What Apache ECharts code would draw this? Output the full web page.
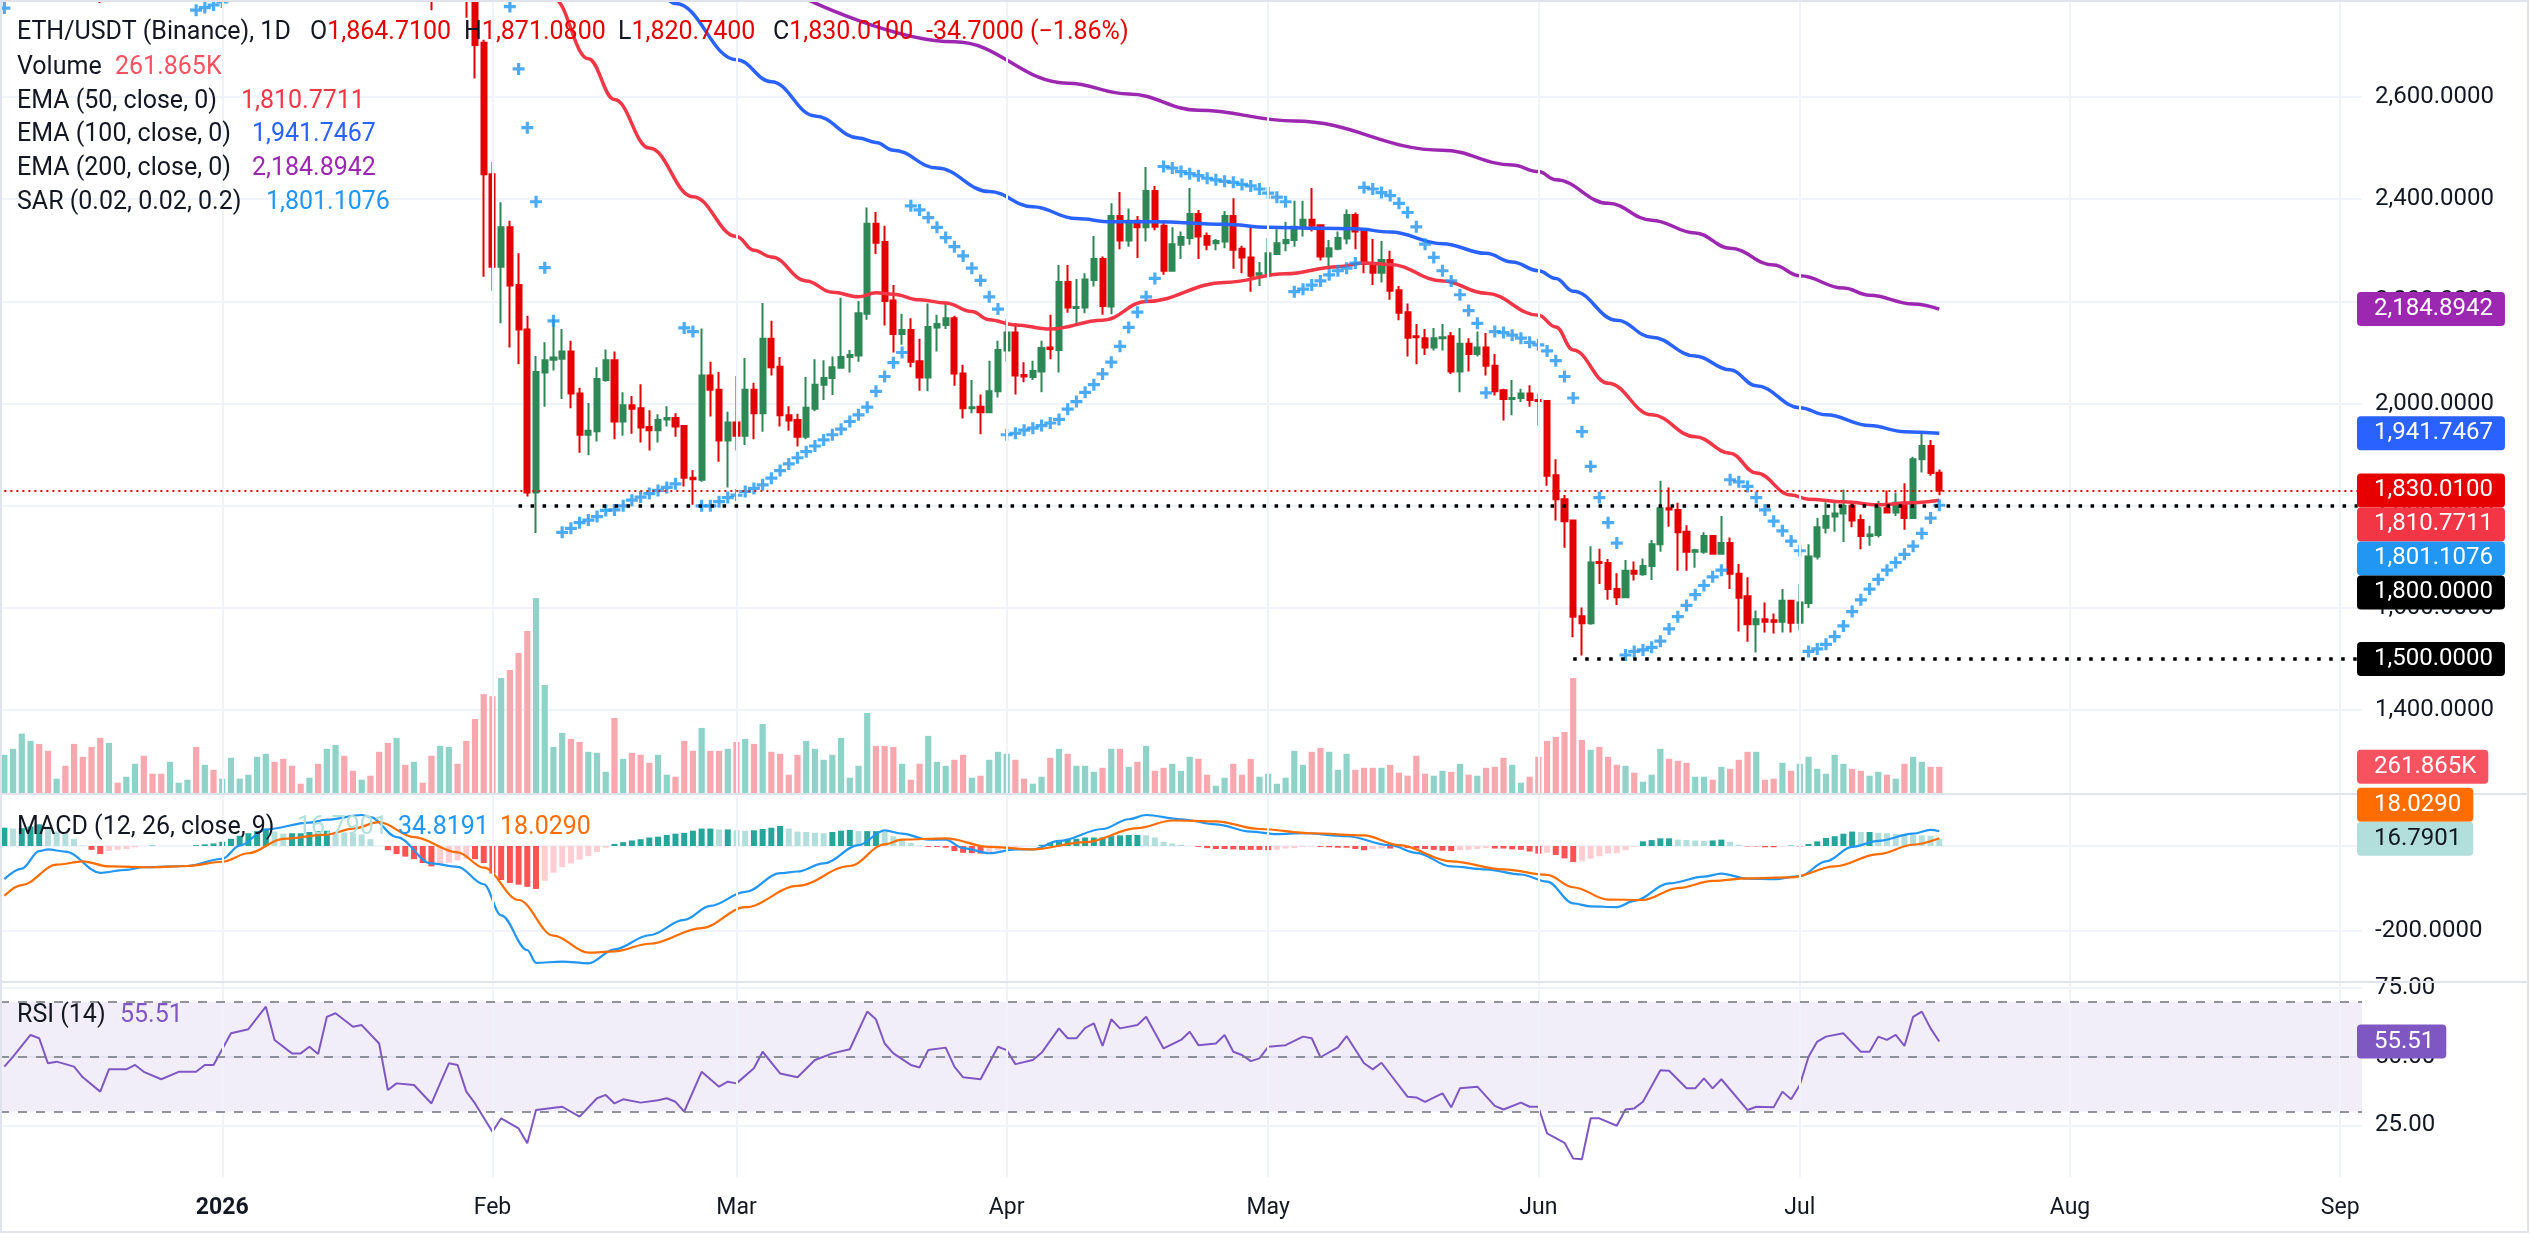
<!DOCTYPE html>
<html>
<head>
<meta charset="utf-8">
<title>ETH/USDT (Binance) 1D</title>
<script src="https://cdn.jsdelivr.net/npm/echarts@6/dist/echarts.min.js"></script>
<style>
  html, body { margin: 0; padding: 0; background: #fff; }
  #main { width: 2530px; height: 1253px; }
</style>
</head>
<body>
<div id="main"></div>
<script>
// day numbers below are days from 2026-01-01 (negative = Dec 2025)
const firstDay = -25 // 2025-12-07, first category on the axis
const dayCount = 271
const monthStarts = [0, 31, 59, 90, 120, 151, 181, 212, 243]
const monthNames = ['2026', 'Feb', 'Mar', 'Apr', 'May', 'Jun', 'Jul', 'Aug', 'Sep']

// candles [open, close, low, high], one per day from day 28 (2026-01-29)
const candleStart = 28
const candles = [
  [2880, 2800, 2755, 2900], [2840, 2702, 2636, 2870], [2706, 2449, 2248, 2712], [2449, 2268, 2221, 2473],
  [2268, 2345, 2157, 2394], [2345, 2231, 2110, 2358], [2232, 2145, 2077, 2294], [2145, 1826, 1818, 2172],
  [1826, 2062, 1747, 2093], [2061, 2085, 1994, 2120], [2086, 2090, 2065, 2165], [2088, 2102, 2009, 2146],
  [2102, 2020, 1991, 2123], [2020, 1939, 1904, 2031], [1939, 1947, 1899, 2001], [1946, 2048, 1926, 2071],
  [2046, 2085, 2043, 2106], [2085, 1965, 1930, 2102], [1965, 1997, 1937, 2022], [1997, 1990, 1941, 2015],
  [1991, 1953, 1924, 2038], [1954, 1948, 1908, 1987], [1948, 1968, 1924, 1979], [1969, 1972, 1955, 1995],
  [1972, 1955, 1935, 1981], [1956, 1855, 1838, 1958], [1855, 1852, 1802, 1870], [1851, 2055, 1847, 2147],
  [2055, 2027, 1975, 2082], [2027, 1928, 1886, 2062], [1928, 1963, 1836, 1984], [1963, 1937, 1908, 2054],
  [1937, 2027, 1919, 2089], [2027, 1981, 1930, 2041], [1981, 2127, 1945, 2197], [2127, 2071, 2055, 2162],
  [2072, 1977, 1955, 2091], [1977, 1967, 1947, 1995], [1968, 1935, 1916, 1980], [1935, 1992, 1930, 2052],
  [1990, 2037, 1985, 2087], [2037, 2050, 2007, 2085], [2050, 2071, 2017, 2092], [2070, 2091, 2068, 2207],
  [2091, 2095, 2061, 2105], [2094, 2177, 2082, 2201], [2176, 2352, 2164, 2384], [2352, 2315, 2293, 2375],
  [2316, 2201, 2153, 2348], [2202, 2136, 2100, 2232], [2136, 2144, 2115, 2176], [2144, 2082, 2071, 2167],
  [2083, 2051, 2025, 2127], [2051, 2150, 2024, 2196], [2149, 2156, 2102, 2174], [2154, 2167, 2146, 2196],
  [2167, 2059, 2035, 2172], [2059, 1991, 1971, 2076], [1991, 1993, 1981, 2046], [1994, 1983, 1940, 2018],
  [1983, 2024, 1981, 2084], [2024, 2105, 2012, 2123], [2104, 2139, 2082, 2165], [2139, 2055, 2018, 2157],
  [2056, 2053, 2042, 2081], [2052, 2064, 2046, 2084], [2063, 2109, 2022, 2123], [2110, 2107, 2087, 2174],
  [2105, 2238, 2061, 2271], [2238, 2188, 2178, 2271], [2187, 2189, 2156, 2244], [2188, 2243, 2177, 2255],
  [2242, 2283, 2229, 2328], [2283, 2191, 2174, 2288], [2190, 2367, 2175, 2392], [2367, 2319, 2302, 2414],
  [2319, 2358, 2307, 2382], [2358, 2345, 2285, 2367], [2345, 2416, 2317, 2463], [2416, 2346, 2339, 2426],
  [2348, 2260, 2252, 2354], [2260, 2312, 2258, 2345], [2311, 2326, 2283, 2337], [2324, 2371, 2311, 2422],
  [2371, 2327, 2283, 2379], [2328, 2311, 2300, 2335], [2314, 2318, 2300, 2322], [2317, 2367, 2304, 2377],
  [2367, 2301, 2264, 2402], [2303, 2286, 2255, 2309], [2286, 2250, 2219, 2345], [2252, 2255, 2230, 2277],
  [2255, 2294, 2254, 2324], [2293, 2314, 2291, 2341], [2314, 2320, 2298, 2356], [2320, 2346, 2307, 2397],
  [2345, 2360, 2327, 2397], [2360, 2348, 2337, 2422], [2349, 2288, 2280, 2350], [2288, 2304, 2265, 2320],
  [2303, 2324, 2300, 2337], [2323, 2369, 2312, 2380], [2369, 2337, 2302, 2374], [2338, 2273, 2255, 2341],
  [2275, 2256, 2232, 2322], [2256, 2281, 2237, 2318], [2281, 2221, 2203, 2299], [2222, 2178, 2163, 2230],
  [2179, 2129, 2092, 2196], [2132, 2130, 2077, 2156], [2128, 2110, 2095, 2146], [2110, 2128, 2104, 2148],
  [2128, 2130, 2104, 2156], [2132, 2063, 2058, 2140], [2063, 2117, 2022, 2148], [2117, 2097, 2063, 2128],
  [2097, 2110, 2092, 2141], [2110, 2074, 2055, 2138], [2074, 2024, 2016, 2097], [2026, 2009, 1967, 2029],
  [2009, 2011, 1977, 2046], [2011, 2020, 2003, 2029], [2020, 2007, 1994, 2036], [2007, 2005, 1957, 2020],
  [2005, 1859, 1839, 2007], [1860, 1813, 1771, 1891], [1813, 1770, 1718, 1821], [1771, 1583, 1543, 1773],
  [1584, 1570, 1507, 1601], [1570, 1689, 1567, 1721], [1690, 1688, 1647, 1716], [1688, 1637, 1616, 1696],
  [1637, 1621, 1606, 1668], [1621, 1673, 1619, 1694], [1673, 1667, 1654, 1691], [1666, 1682, 1663, 1697],
  [1682, 1725, 1655, 1733], [1725, 1795, 1710, 1849], [1795, 1793, 1759, 1836], [1792, 1748, 1673, 1806],
  [1749, 1710, 1673, 1762], [1710, 1713, 1679, 1716], [1710, 1741, 1706, 1748], [1741, 1706, 1704, 1742],
  [1706, 1727, 1704, 1780], [1727, 1667, 1637, 1738], [1667, 1620, 1554, 1686], [1623, 1568, 1534, 1660],
  [1568, 1578, 1513, 1595], [1578, 1573, 1552, 1611], [1576, 1573, 1550, 1589], [1573, 1614, 1552, 1637],
  [1614, 1571, 1552, 1616], [1571, 1611, 1556, 1647], [1610, 1701, 1600, 1725], [1701, 1758, 1695, 1776],
  [1757, 1780, 1746, 1807], [1779, 1785, 1749, 1807], [1785, 1800, 1729, 1832], [1800, 1771, 1758, 1810],
  [1772, 1741, 1715, 1783], [1741, 1744, 1722, 1761], [1743, 1795, 1738, 1810], [1795, 1787, 1786, 1830],
  [1787, 1806, 1780, 1826], [1806, 1776, 1753, 1844], [1776, 1891, 1775, 1896], [1891, 1917, 1865, 1945],
  [1917, 1864, 1859, 1929], [1864.71, 1830.01, 1820.74, 1871.08]
]
// only the wick tips of these two show at the top edge: [day, open, close, low, high]
const earlyCandles = [[-14, 2850, 2830, 2784, 2870], [24, 2860, 2830, 2770, 2880]]

// volume in K, one per day from day -25; volUp: 1 = up bar, 0 = down bar
const volStart = -25
const volumes = [
  382, 442, 594, 521, 491, 422, 143, 272, 491, 362,
  461, 551, 501, 103, 163, 292, 372, 193, 193, 312,
  103, 133, 461, 282, 232, 143, 352, 143, 183, 362,
  392, 312, 342, 272, 93, 153, 292, 442, 481, 372,
  222, 133, 173, 412, 501, 551, 282, 312, 103, 372,
  471, 461, 292, 521, 740, 989, 969, 1150, 1230, 1400,
  1620, 1950, 1080, 461, 601, 541, 511, 412, 402, 212,
  750, 342, 402, 382, 302, 382, 183, 163, 521, 422,
  651, 422, 422, 442, 511, 541, 491, 690, 412, 392,
  183, 382, 521, 442, 332, 382, 551, 153, 272, 800,
  471, 471, 461, 292, 133, 292, 571, 312, 272, 332,
  382, 153, 173, 332,
  412, 392, 332, 143, 93, 163, 352, 442, 392, 272,
  272, 212, 252, 442, 442, 262, 312, 471, 222, 252,
  292, 222, 362, 342, 183, 73, 153, 292, 183, 342,
  163, 193, 93, 153, 422, 282, 412, 451, 412, 232,
  392, 232, 252, 252, 252, 282, 203, 173, 372, 193,
  173, 222, 212, 292, 183, 173, 252, 262, 352, 282,
  103, 163, 362, 521, 561, 611, 1150, 531, 432, 461,
  362, 282, 272, 203, 113, 183, 442, 342, 322, 302,
  163, 163, 133, 262, 242, 332, 412, 412, 133, 143,
  302, 222, 292, 362, 242, 193, 382, 292, 242, 222,
  173, 212, 183, 143, 292, 362, 312, 262, 261.865
]
const volUp = '1111001000' + '0010110001' + '1101011111' + '1000010110' + '0100010100' +
  '1100000100' + '0111100111' + '0100011000' + '1001010100' + '0011111111' + '0001001110' + '0101' +
  '1100110101' + '1101010100' + '1110011000' + '1111110011' + '1000100000' + '1101010001' +
  '1000000010' + '0010111000' + '1101000100' + '1011111100' + '110101100'

// EMA lines, read as [day, value]
const ema50 = [[37, 2820], [38, 2793], [42, 2675], [45, 2595], [49, 2500], [54, 2405], [59, 2327], [61, 2300],
  [63, 2287], [67, 2240], [70, 2218], [73, 2209], [75, 2217], [77, 2214], [80, 2203], [83, 2197], [86, 2180],
  [88, 2164], [91, 2154], [95, 2146], [101, 2163], [106, 2200], [115, 2237], [122, 2254], [128, 2268],
  [131, 2275], [134, 2272], [140, 2240], [145, 2216], [151, 2173], [153, 2150], [155, 2105], [159, 2040],
  [164, 1978], [169, 1935], [173, 1903], [176, 1864], [180, 1821], [182, 1813], [186, 1808], [190, 1802],
  [194, 1806], [197, 1810.77]]
const ema100 = [[50, 2815], [52, 2783], [59, 2673], [63, 2630], [68, 2563], [73, 2520], [75, 2511], [77, 2496],
  [82, 2461], [88, 2415], [93, 2385], [98, 2362], [102, 2356], [107, 2356], [115, 2351], [120, 2345],
  [126, 2343], [130, 2342], [134, 2336], [140, 2313], [145, 2294], [148, 2277], [151, 2260], [153, 2245],
  [155, 2220], [160, 2163], [164, 2130], [169, 2093], [173, 2066], [176, 2035], [181, 1992], [184, 1978],
  [189, 1957], [193, 1945], [197, 1941.75]]
const ema200 = [[67, 2792], [84, 2708], [97, 2627], [104, 2606], [112, 2574], [123, 2553], [140, 2496],
  [148, 2467], [151, 2454], [153, 2438], [159, 2392], [164, 2359], [169, 2334], [173, 2304], [178, 2271],
  [181, 2250], [186, 2226], [189, 2212], [194, 2195], [197, 2184.89]]

// parabolic SAR, one per day from day 33, plus a few dots at the top-left
const sarStart = 33
const sar = [
  2777, 2655, 2540, 2395, 2266, 2162, 1748, 1756, 1767, 1772,
  1779, 1791, 1792, 1800, 1811, 1817, 1824, 1830, 1836, 1843,
  2148, 2141, 1800, 1800, 1808, 1816, 1821, 1828, 1834, 1841,
  1854, 1869, 1882, 1894, 1906, 1917, 1929, 1939, 1950, 1965,
  1978, 1993, 2024, 2053, 2080, 2100, 2387, 2379, 2364, 2345,
  2325, 2307, 2289, 2265, 2241, 2209, 2185, 1939, 1942, 1948,
  1952, 1957, 1962, 1969, 1989, 2004, 2022, 2037, 2058, 2081,
  2112, 2149, 2179, 2209, 2245, 2464, 2461, 2454, 2450, 2446,
  2441, 2438, 2435, 2433, 2429, 2426, 2420, 2412, 2404, 2395,
  2219, 2224, 2232, 2240, 2252, 2260, 2265, 2275, 2423, 2420,
  2413, 2407, 2392, 2374, 2346, 2312, 2286, 2260, 2240, 2213,
  2182, 2157, 2021, 2141, 2139, 2134, 2128, 2120, 2115, 2103,
  2084, 2053, 2011, 1945, 1877, 1816, 1767, 1727, 1508, 1515,
  1518, 1523, 1535, 1559, 1583, 1605, 1626, 1644, 1661, 1674,
  1851, 1847, 1838, 1816, 1792, 1770, 1751, 1731, 1712, 1515,
  1520, 1529, 1544, 1565, 1593, 1616, 1637, 1656, 1674, 1689,
  1705, 1721, 1746, 1776, 1801.1076
]
const sarEarly = [[-25, 2774], [-3, 2770], [-2, 2775], [-1, 2780], [0, 2786]]

// MACD (12, 26, 9): lines read as [day, value], histogram one per day from day -25
const macdLine = [[-25, -78], [-23, -53], [-21, -12], [-20, -8], [-18, -13], [-14, -63], [-11, -56], [-9, -50],
  [-4, -47], [0, -30], [2, 1], [5, 39], [10, 55], [12, 62], [16, 73], [17, 68], [20, 21], [24, -41], [27, -49],
  [30, -90], [32, -163], [35, -245], [36, -275], [39, -272], [42, -276], [45, -243], [49, -210], [53, -174],
  [56, -141], [60, -108], [64, -64], [66, -60], [69, -41], [73, 2], [76, 37], [78, 29], [81, 15], [83, 15],
  [85, -5], [88, -17], [91, -8], [93, -8], [96, 12], [101, 40], [104, 63], [106, 73], [110, 63], [114, 51],
  [118, 34], [121, 28], [124, 30], [129, 23], [134, 2], [137, -16], [141, -48], [145, -55], [149, -67],
  [152, -84], [155, -135], [157, -142], [160, -144], [162, -129], [166, -88], [170, -72], [172, -65],
  [175, -77], [178, -78], [181, -71], [184, -36], [187, -2], [190, 12], [194, 29], [196, 38], [197, 34.82]]
const signalLine = [[-25, -117], [-23, -92], [-19, -44], [-16, -36], [-13, -48], [-8, -50], [-4, -47], [0, -37],
  [3, -17], [7, 17], [12, 27], [15, 41], [18, 56], [22, 21], [27, -15], [30, -51], [34, -127], [38, -211],
  [42, -251], [45, -248], [49, -230], [55, -193], [60, -144], [66, -94], [72, -47], [76, 4], [78, 15], [83, 18],
  [88, -2], [93, -8], [99, 9], [105, 42], [109, 60], [114, 58], [119, 40], [125, 30], [131, 25], [135, 2],
  [141, -36], [147, -55], [152, -68], [155, -97], [159, -126], [163, -127], [167, -99], [171, -82], [175, -76],
  [180, -74], [185, -48], [190, -19], [194, 3], [197, 18.03]]
const histStart = -25
const hist = [
  43, 41, 42, 46, 51, 46, 34, 29, 17, 1,
  -9, -19, -12, -9, -7, -3, 0, 1, 0, 0,
  0, 0, 2, 4, 6, 10, 17, 24, 30, 35,
  38, 34, 29, 30, 30, 33, 35, 36, 34, 32,
  30, 27, 16, 0, -10, -19, -25, -31, -40, -48,
  -44, -39, -34, -30, -31, -40, -65, -80, -87, -91,
  -96, -101, -82, -63, -50, -41, -32, -24, -14, -4,
  5, 9, 13, 16, 20, 22, 26, 29, 31, 36,
  41, 41, 39, 39, 37, 36, 37, 40, 43, 47,
  41, 34, 33, 31, 30, 33, 36, 38, 35, 35,
  35, 33, 23, 14, 7, 1, -2, -2, -4, -12,
  -16, -17, -18, -15, -10, -5, -2, -1, 0, 3,
  8, 13, 17, 17, 20, 20, 20, 23, 25, 26,
  26, 25, 20, 10, 6, 3, 0, -2, -5, -7,
  -7, -8, -9, -9, -9, -10, -9, -6, -5, -2,
  -1, -2, -3, -4, -4, -7, -10, -7, -6, -6,
  -5, -5, -6, -7, -9, -11, -12, -10, -9, -7,
  -5, -6, -6, -8, -9, -13, -18, -16, -21, -29,
  -38, -35, -30, -24, -18, -17, -10, -2, 11, 14,
  18, 18, 15, 14, 13, 12, 13, 15, 10, 3,
  -1, -1, -3, -3, -1, 1, -1, 5, 11, 19,
  23, 29, 34, 33, 33, 31, 30, 28, 27, 26,
  25, 24, 16.79
]

// RSI (14), read as [day, value]
const rsi = [[-25, 46.4], [-24, 50], [-22, 57.9], [-21, 56.7], [-20, 47.6], [-19, 48.2], [-17, 46.4], [-16, 42.5],
  [-14, 37.3], [-13, 45.4], [-11, 45.4], [-10, 47], [-9, 44.5], [-7, 41.8], [-5, 44.5], [-3, 44.5], [-2, 47],
  [-1, 47], [1, 58.5], [3, 60], [5, 68.2], [6, 56.1], [8, 51.2], [9, 51.2], [10, 53.6], [11, 51], [12, 64.5],
  [13, 65.8], [15, 60.9], [16, 61.5], [18, 54.8], [19, 37.9], [20, 40.3], [22, 39.7], [24, 33], [26, 47.6],
  [27, 47], [28, 37.3], [29, 33], [31, 22.7], [32, 27.6], [34, 23.9], [35, 18.5], [36, 30.6], [39, 31.8],
  [41, 28.2], [43, 34.9], [44, 36.1], [45, 33], [46, 34.5], [48, 33.3], [50, 34.2], [51, 34.9], [52, 33.6],
  [53, 30], [55, 44.5], [57, 39.1], [58, 40.9], [59, 40.3], [61, 45.8], [62, 51.8], [64, 43.9], [66, 42.5],
  [68, 48.8], [70, 51.2], [72, 52.7], [74, 66.4], [75, 63.6], [76, 54.8], [77, 51.2], [79, 47], [80, 46.1],
  [81, 52.4], [83, 53.3], [84, 46.4], [85, 42.5], [87, 41.8], [89, 53.6], [90, 52.4], [91, 47.3], [93, 48.8],
  [94, 51.4], [96, 60.3], [97, 56.7], [98, 56.7], [99, 60.5], [100, 62.1], [101, 53.9], [102, 63.6], [103, 60.3],
  [105, 61.5], [106, 64.5], [108, 53], [110, 56.1], [111, 59.1], [112, 54.2], [114, 54.8], [115, 57.9],
  [116, 51.8], [117, 50.6], [118, 48.4], [119, 49.4], [120, 53.6], [122, 54.2], [124, 57.3], [125, 56.7],
  [126, 49.8], [128, 53.4], [129, 57.5], [131, 47.6], [132, 45.4], [133, 47.8], [136, 35.4], [137, 35.2],
  [138, 33.6], [140, 36.7], [141, 31.6], [142, 38.5], [144, 39.1], [146, 32.1], [147, 30.8], [149, 33.3],
  [150, 31.8], [151, 31.8], [152, 22.1], [154, 18.7], [155, 13], [156, 12.7], [157, 27.6], [158, 27.6],
  [160, 24.9], [161, 30.8], [162, 31.2], [163, 33.6], [165, 45.1], [166, 44.9], [168, 38.5], [169, 38.5],
  [170, 42.1], [171, 38.5], [172, 41.8], [175, 30.6], [176, 31.8], [178, 31.6], [179, 37.3], [180, 34.5],
  [181, 39.7], [182, 50], [183, 55.5], [184, 57.3], [186, 58.5], [188, 51.8], [189, 51.8], [190, 57.3],
  [191, 56.1], [192, 57.9], [193, 53.9], [194, 64.5], [195, 66.4], [196, 60.3], [197, 55.51]]

// horizontal levels: last close, drawn rays [startDay, price]
const lastClose = 1830.01
const rays = [[34, 1800], [155, 1500]]

// ---------------------------------------------------------------
const FONT = 'Roboto, "Noto Sans", sans-serif'
const TXT = '#131722'
const GRID_C = '#F0F3FA'
const UP = '#2D8856'
const DOWN = '#E50000'

const cats = []
for (let i = 0; i < dayCount; i++) {
  cats.push(new Date(Date.UTC(2025, 11, 7) + i * 86400000).toISOString().slice(0, 10))
}
const cat = d => cats[d - firstDay]
const pts = list => list.map(p => [cat(p[0]), p[1]])

const candleData = cats.map(() => '-')
candles.forEach((c, i) => { candleData[candleStart + i - firstDay] = c })
earlyCandles.forEach(c => { candleData[c[0] - firstDay] = c.slice(1) })

const volData = cats.map(() => '-')
volumes.forEach((v, i) => {
  volData[volStart + i - firstDay] = {
    value: v,
    itemStyle: { color: volUp[i] === '1' ? '#8FD3C8' : '#F7A8AE' }
  }
})

const sarData = pts(sarEarly).concat(sar.map((v, i) => [cat(sarStart + i), v]))

const histData = cats.map(() => '-')
hist.forEach((v, i) => {
  const prev = i > 0 ? hist[i - 1] : v
  let color
  if (v >= 0) color = v >= prev ? '#26A69A' : '#B2DFDB'
  else color = v <= prev ? '#FF5252' : '#FFCDD2'
  histData[histStart + i - firstDay] = { value: v, itemStyle: { color: color } }
})

const money = v => v.toLocaleString('en-US', { minimumFractionDigits: 4, maximumFractionDigits: 4 })

const GRID_W = 2362
const grids = [
  { top: -5.2, height: 817.6 }, // price 1200..2800
  { top: 593, height: 200 }, // volume 0..2000K
  { top: 761, height: 255 }, // macd -400..200
  { top: 919.2, height: 275 }, // rsi 0..100
  { top: 0, height: 1177 } // month lines
].map(g => Object.assign({ left: 0, width: GRID_W, outerBoundsMode: 'none' }, g))

const xAxes = grids.map((g, i) => ({
  type: 'category',
  gridIndex: i,
  data: cats,
  boundaryGap: true,
  axisLine: { show: false },
  axisTick: { show: false },
  splitLine: { show: false },
  axisLabel: {
    show: i === 3,
    interval: (idx, val) => val.slice(8) === '01',
    margin: 3,
    fontFamily: FONT,
    fontSize: 23,
    color: TXT,
    formatter: val => {
      const m = monthStarts.indexOf(Math.round((Date.parse(val) - Date.UTC(2026, 0, 1)) / 86400000))
      if (m < 0) return ''
      return m === 0 ? '{b|' + monthNames[m] + '}' : monthNames[m]
    },
    rich: { b: { fontWeight: 'bold', fontSize: 23, fontFamily: FONT, color: TXT } }
  }
}))

const valueAxis = (grid, min, max, interval, fmt) => ({
  type: 'value',
  gridIndex: grid,
  position: 'right',
  min: min,
  max: max,
  interval: interval,
  axisLine: { show: false },
  axisTick: { show: false },
  splitLine: { show: true, showMinLine: false, showMaxLine: false, lineStyle: { color: GRID_C, width: 2 } },
  axisLabel: {
    showMinLabel: false,
    showMaxLabel: false,
    margin: 13,
    fontFamily: FONT,
    fontSize: 24,
    color: TXT,
    formatter: fmt
  }
})

const option = {
  animation: false,
  backgroundColor: '#ffffff',
  textStyle: { fontFamily: FONT },
  grid: grids,
  xAxis: xAxes,
  yAxis: [
    valueAxis(0, 1200, 2800, 200, money),
    { type: 'value', gridIndex: 1, min: 0, max: 2000, show: false },
    valueAxis(2, -400, 200, 200, money),
    valueAxis(3, 0, 100, 25, v => v.toFixed(2)),
    { type: 'value', gridIndex: 4, min: 0, max: 1, show: false }
  ],
  series: [
    {
      // vertical month grid lines across all panes
      type: 'line',
      xAxisIndex: 4,
      yAxisIndex: 4,
      data: [[cats[0], -1]],
      showSymbol: false,
      lineStyle: { opacity: 0 },
      z: 0,
      markLine: {
        silent: true,
        symbol: 'none',
        label: { show: false },
        lineStyle: { color: GRID_C, width: 2, type: 'solid' },
        data: monthStarts.map(d => ({ xAxis: cat(d) }))
      }
    },
    {
      name: 'Volume',
      type: 'bar',
      xAxisIndex: 1,
      yAxisIndex: 1,
      barWidth: 6.2,
      data: volData,
      z: 1
    },
    {
      name: 'ETH/USDT',
      type: 'candlestick',
      xAxisIndex: 0,
      yAxisIndex: 0,
      barWidth: 5.6,
      data: candleData,
      itemStyle: { color: UP, color0: DOWN, borderColor: UP, borderColor0: DOWN, borderWidth: 2 },
      z: 2,
      markLine: {
        silent: true,
        symbol: 'none',
        label: { show: false },
        data: [
          [
            { coord: [cats[0], lastClose], lineStyle: { color: DOWN, width: 2, type: [2, 4] } },
            { coord: [cats[dayCount - 1], lastClose] }
          ]
        ].concat(rays.map(r => [
          { coord: [cat(r[0]), r[1]], lineStyle: { color: '#000000', width: 3.5, type: [3.5, 8.5] } },
          { coord: [cats[dayCount - 1], r[1]] }
        ]))
      }
    },
    {
      name: 'EMA 50',
      type: 'line',
      data: pts(ema50),
      smooth: 0.4,
      smoothMonotone: 'x',
      showSymbol: false,
      lineStyle: { color: '#F23645', width: 3.5 },
      z: 3
    },
    {
      name: 'EMA 100',
      type: 'line',
      data: pts(ema100),
      smooth: 0.4,
      smoothMonotone: 'x',
      showSymbol: false,
      lineStyle: { color: '#2962FF', width: 3.5 },
      z: 3
    },
    {
      name: 'EMA 200',
      type: 'line',
      data: pts(ema200),
      smooth: 0.4,
      smoothMonotone: 'x',
      showSymbol: false,
      lineStyle: { color: '#9C27B0', width: 3.5 },
      z: 3
    },
    {
      name: 'SAR',
      type: 'scatter',
      data: sarData,
      symbol: 'path://M4.4,0H7.6V4.4H12V7.6H7.6V12H4.4V7.6H0V4.4H4.4Z',
      symbolSize: 12,
      itemStyle: { color: '#2196F3' },
      z: 4
    },
    {
      name: 'Histogram',
      type: 'bar',
      xAxisIndex: 2,
      yAxisIndex: 2,
      barWidth: 6,
      data: histData,
      z: 1
    },
    {
      name: 'MACD',
      type: 'line',
      xAxisIndex: 2,
      yAxisIndex: 2,
      data: pts(macdLine),
      smooth: 0.35,
      smoothMonotone: 'x',
      showSymbol: false,
      lineStyle: { color: '#2196F3', width: 2.2 },
      z: 3
    },
    {
      name: 'Signal',
      type: 'line',
      xAxisIndex: 2,
      yAxisIndex: 2,
      data: pts(signalLine),
      smooth: 0.35,
      smoothMonotone: 'x',
      showSymbol: false,
      lineStyle: { color: '#FF6D00', width: 2.2 },
      z: 3
    },
    {
      name: 'RSI',
      type: 'line',
      xAxisIndex: 3,
      yAxisIndex: 3,
      data: pts(rsi),
      showSymbol: false,
      lineStyle: { color: '#7E57C2', width: 2 },
      z: 3,
      markArea: {
        silent: true,
        itemStyle: { color: 'rgba(126, 87, 194, 0.1)' },
        data: [[{ yAxis: 30 }, { yAxis: 70 }]]
      },
      markLine: {
        silent: true,
        symbol: 'none',
        label: { show: false },
        lineStyle: { color: '#787B86', width: 1.6, type: [9, 9] },
        data: [{ yAxis: 70 }, { yAxis: 50 }, { yAxis: 30 }]
      }
    }
  ]
}

const chart = echarts.init(document.getElementById('main'))
chart.setOption(option)

// right-hand value tags, stacked like the price scale does
const TAG_H = 34
const tagGroups = [
  {
    dir: 1,
    tags: [
      { axis: 0, v: 2184.8942, text: '2,184.8942', bg: '#9C27B0' },
      { axis: 0, v: 1941.7467, text: '1,941.7467', bg: '#2962FF' },
      { axis: 0, v: 1830.01, text: '1,830.0100', bg: '#E60000' },
      { axis: 0, v: 1810.7711, text: '1,810.7711', bg: '#F23645' },
      { axis: 0, v: 1801.1076, text: '1,801.1076', bg: '#2196F3' },
      { axis: 0, v: 1800, text: '1,800.0000', bg: '#000000' },
      { axis: 0, v: 1500, text: '1,500.0000', bg: '#000000' },
      { axis: 1, v: 261.865, text: '261.865K', bg: '#F7525F' }
    ]
  },
  {
    dir: -1,
    tags: [
      { axis: 2, v: 18.029, text: '18.0290', bg: '#FF6D00' },
      { axis: 2, v: 16.7901, text: '16.7901', bg: '#B2DFDB', fg: TXT }
    ]
  },
  { dir: 1, tags: [{ axis: 3, v: 55.51, text: '55.51', bg: '#7E57C2' }] }
]

const graphic = []
tagGroups.forEach(g => {
  const list = g.tags
  list.forEach(t => { t.py = chart.convertToPixel({ yAxisIndex: t.axis }, t.v) })
  list.sort((a, b) => a.py - b.py)
  if (g.dir > 0) {
    for (let i = 1; i < list.length; i++) list[i].py = Math.max(list[i].py, list[i - 1].py + TAG_H)
  } else {
    for (let i = list.length - 2; i >= 0; i--) list[i].py = Math.min(list[i].py, list[i + 1].py - TAG_H)
  }
  list.forEach(t => {
    graphic.push({
      type: 'text',
      z: 100,
      x: 2357,
      y: t.py,
      style: {
        text: t.text,
        fill: t.fg || '#ffffff',
        fontSize: 24,
        fontFamily: FONT,
        backgroundColor: t.bg,
        padding: [5, 12, 5, 17],
        borderRadius: 4,
        textVerticalAlign: 'middle'
      }
    })
  })
})

// indicator legends: each block is [x, [[text, colour], ...]]
const legendRow = (y, blocks) => {
  blocks.forEach(b => {
    const rich = {}
    let text = ''
    b[1].forEach((p, i) => {
      rich['p' + i] = { fill: p[1], fontSize: 25, fontFamily: FONT }
      text += '{p' + i + '|' + p[0] + '}'
    })
    graphic.push({
      type: 'text', z: 100, x: b[0], y: y,
      style: { text: text, rich: rich, fontSize: 25, fontFamily: FONT, textVerticalAlign: 'middle' }
    })
  })
}
const red = '#E60000'
legendRow(33, [
  [17, [['ETH/USDT (Binance), 1D', TXT]]],
  [310, [['O', TXT], ['1,864.7100', red]]],
  [464, [['H', TXT], ['1,871.0800', red]]],
  [618, [['L', TXT], ['1,820.7400', red]]],
  [773, [['C', TXT], ['1,830.0100', red]]],
  [926, [['-34.7000 (−1.86%)', red]]]
])
legendRow(68, [[17, [['Volume', TXT]]], [115, [['261.865K', '#F7525F']]]])
legendRow(102, [[17, [['EMA (50, close, 0)', TXT]]], [241, [['1,810.7711', '#F23645']]]])
legendRow(135, [[17, [['EMA (100, close, 0)', TXT]]], [252, [['1,941.7467', '#2962FF']]]])
legendRow(169, [[17, [['EMA (200, close, 0)', TXT]]], [252, [['2,184.8942', '#9C27B0']]]])
legendRow(203, [[17, [['SAR (0.02, 0.02, 0.2)', TXT]]], [266, [['1,801.1076', '#2196F3']]]])
legendRow(828, [
  [17, [['MACD (12, 26, close, 9)', TXT]]],
  [297, [['16.7901', '#B2DFDB']]],
  [398, [['34.8191', '#2196F3']]],
  [500, [['18.0290', '#FF6D00']]]
])
legendRow(1016, [[17, [['RSI (14)', TXT]]], [120, [['55.51', '#7E57C2']]]])

// pane separators and outer frame
const sep = y => ({ type: 'line', z: 90, shape: { x1: 0, y1: y, x2: 2528, y2: y }, style: { stroke: '#E0E3EB', lineWidth: 2 } })
graphic.push(sep(794), sep(982))
graphic.push({ type: 'rect', z: 90, shape: { x: 1, y: 1, width: 2527, height: 1231 }, style: { fill: null, stroke: '#E0E3EB', lineWidth: 2 } })

chart.setOption({ graphic: graphic })
</script>
</body>
</html>
